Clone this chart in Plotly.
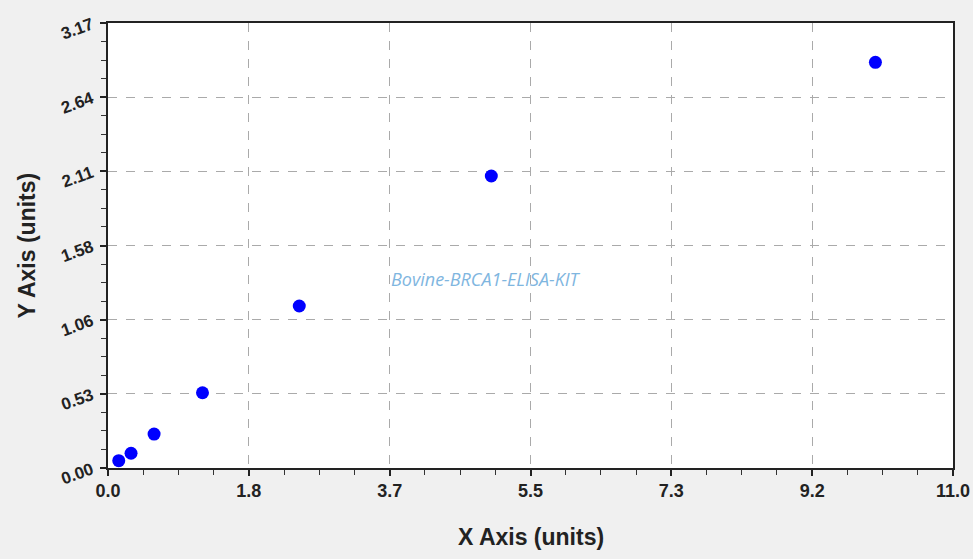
import plotly.graph_objects as go

# Data
x_values = [0.14, 0.30, 0.60, 1.23, 2.49, 4.99, 9.99]
y_values = [0.052, 0.105, 0.242, 0.536, 1.154, 2.08, 2.89]

x_tick_labels = ["0.0", "1.8", "3.7", "5.5", "7.3", "9.2", "11.0"]
y_tick_labels = ["0.00", "0.53", "1.06", "1.58", "2.11", "2.64", "3.17"]
x_max = 11.0
y_max = 3.17

n = len(x_tick_labels) - 1
x_tickvals = [x_max * i / n for i in range(n + 1)]
y_tickvals = [y_max * i / n for i in range(n + 1)]
x_minor = [x_max * i / (n * 4) for i in range(n * 4 + 1) if i % 4]
y_minor = [y_max * i / (n * 4) for i in range(n * 4 + 1) if i % 4]

fig = go.Figure()
fig.add_trace(go.Scatter(
    x=x_values, y=y_values, mode="markers",
    marker=dict(color="#0000ff", size=13, line=dict(width=0)),
    showlegend=False,
))

x_tick_font = dict(family="Liberation Sans, Arial, sans-serif", size=18, color="#222222", weight="bold")
y_tick_font = dict(family="Liberation Sans, Arial, sans-serif", size=17, color="#222222", weight="bold")
title_font = dict(family="Liberation Sans, Arial, sans-serif", size=23, color="#222222", weight="bold")

common = dict(
    ticks="outside", ticklen=6, tickwidth=1.5, tickcolor="#222222",
    showline=True, linecolor="#222222", linewidth=1.5, mirror=True,
    showgrid=True, gridcolor="#aaaaaa", griddash="dash", gridwidth=1,
    zeroline=False, automargin=False,
)

fig.update_xaxes(
    range=[0, x_max], tickvals=x_tickvals, ticktext=x_tick_labels,
    minor=dict(tickvals=x_minor, ticks="outside", ticklen=5, tickwidth=1.2, tickcolor="#333333", showgrid=False),
    tickfont=x_tick_font, **common,
)
fig.update_yaxes(
    range=[0, y_max], tickvals=y_tickvals, ticktext=y_tick_labels,
    minor=dict(tickvals=y_minor, ticks="outside", ticklen=5, tickwidth=1.2, tickcolor="#333333", showgrid=False),
    tickfont=y_tick_font, tickangle=-20, ticklabelstandoff=5, **common,
)

fig.add_annotation(
    text="X Axis (units)", xref="paper", yref="paper",
    x=0.5, y=0, yanchor="middle", yshift=-69, showarrow=False,
    font=title_font,
)
fig.add_annotation(
    text="Y Axis (units)", xref="paper", yref="paper",
    x=0, y=0.5, xanchor="center", xshift=-82, textangle=-90, showarrow=False,
    font=title_font,
)
fig.add_annotation(
    text="Bovine-BRCA1-ELISA-KIT", xref="paper", yref="paper",
    x=0.447, y=0.425, showarrow=False,
    font=dict(family="Open Sans, sans-serif", size=18, color="#7fb6df", style="italic"),
)

fig.update_layout(
    width=973, height=559,
    margin=dict(l=108, r=20, t=23, b=91),
    paper_bgcolor="#f0f0f0", plot_bgcolor="#ffffff",
)

fig.write_html("out.html", config={"displayModeBar": False})

# remove default browser body margin so the figure fills the window
with open("out.html", "r", encoding="utf-8") as f:
    html = f.read()
html = html.replace("<head>", "<head><style>html,body{margin:0;padding:0;overflow:hidden;}</style>", 1)
with open("out.html", "w", encoding="utf-8") as f:
    f.write(html)
